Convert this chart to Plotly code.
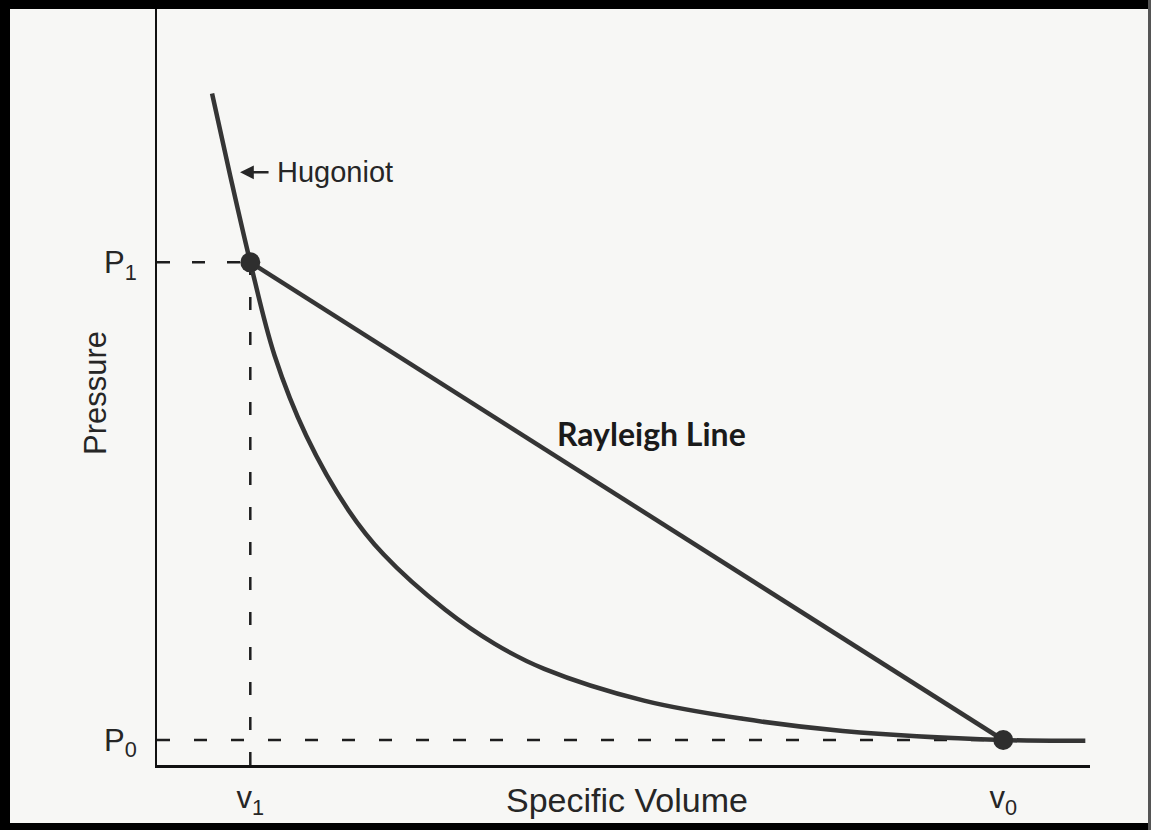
import plotly.graph_objects as go

# ---- data (arbitrary schematic units) ----
V1 = 1.0
V0 = 9.07
P1 = 6.64
P0 = 0.33

hug_v = [0.59, 0.78, 1.00, 1.26, 1.60, 2.05, 2.43, 3.09, 3.62, 4.15, 5.22, 6.28, 7.35, 9.07, 9.95]
hug_p = [8.87, 7.81, 6.64, 5.41, 4.35, 3.37, 2.78, 2.05, 1.60, 1.27, 0.85, 0.61, 0.45, 0.33, 0.32]

ray_v = [V1, V0]
ray_p = [P1, P0]

x_ticks = [V1, V0]
x_ticktext = ["v<sub>1</sub>", "v<sub>0</sub>"]
y_ticks = [P0, P1]
y_ticktext = ["P<sub>0</sub>", "P<sub>1</sub>"]

x_title = "Specific Volume"
y_title = "Pressure"

hug_label_v, hug_label_p = 1.26, 7.83
arrow_head_v = 0.89
ray_label_v, ray_label_p = 5.3, 4.38

# ---- layout geometry ----
W, H = 1151, 830
ML, MT = 157, 8
PW, PH = 933, 757
MR = W - ML - PW
MB = H - MT - PH

def px(x):
    return (x - ML) / PW

def py(y):
    return (MT + PH - y) / PH

curve_col = "#353535"
dash_col = "#1e1e1e"
bg = "#f7f7f5"

fig = go.Figure()

# dashed guide lines
fig.add_trace(go.Scatter(x=[0, V1], y=[P1, P1], mode="lines",
                         line=dict(color=dash_col, width=2.5, dash="13px,22px"),
                         hoverinfo="skip", showlegend=False))
fig.add_trace(go.Scatter(x=[V1, V1], y=[0, P1], mode="lines",
                         line=dict(color=dash_col, width=2.5, dash="13px,22px"),
                         hoverinfo="skip", showlegend=False))
fig.add_trace(go.Scatter(x=[0, V0], y=[P0, P0], mode="lines",
                         line=dict(color=dash_col, width=2.5, dash="13px,24px"),
                         hoverinfo="skip", showlegend=False))

# Hugoniot
fig.add_trace(go.Scatter(x=hug_v, y=hug_p, mode="lines",
                         line=dict(color=curve_col, width=4.5, shape="spline", smoothing=1.0),
                         hoverinfo="skip", showlegend=False))
# Rayleigh line
fig.add_trace(go.Scatter(x=ray_v, y=ray_p, mode="lines",
                         line=dict(color=curve_col, width=4.5),
                         hoverinfo="skip", showlegend=False))
# state points
fig.add_trace(go.Scatter(x=ray_v, y=ray_p, mode="markers",
                         marker=dict(color="#2e2e2e", size=20),
                         hoverinfo="skip", showlegend=False))

label_font = dict(family="Liberation Sans, Arial, sans-serif", size=31, color="#262626")
xtitle_font = dict(family="Liberation Sans, Arial, sans-serif", size=34, color="#262626")
ytitle_font = dict(family="Liberation Sans, Arial, sans-serif", size=31, color="#262626")

# Hugoniot label with arrow
fig.add_annotation(x=arrow_head_v, y=hug_label_p, xref="x", yref="y",
                   ax=30, ay=0, axref="pixel", ayref="pixel",
                   text="", showarrow=True, arrowhead=2, arrowsize=1.1,
                   arrowwidth=2.5, arrowcolor="#262626")
fig.add_annotation(x=hug_label_v, y=hug_label_p, xref="x", yref="y", xanchor="left", yanchor="middle",
                   text="Hugoniot", showarrow=False,
                   font=dict(family="Liberation Sans, Arial, sans-serif", size=29, color="#262626"))
fig.add_annotation(x=ray_label_v, y=ray_label_p, xref="x", yref="y", xanchor="center", yanchor="middle",
                   text="<b>Rayleigh Line</b>", showarrow=False,
                   font=dict(family="Lato, sans-serif", size=32, color="#1a1a1a"))

# axis titles (placed as in the scan)
fig.add_annotation(x=px(627), y=py(800), xref="paper", yref="paper", xanchor="center", yanchor="middle",
                   text=x_title, showarrow=False, font=xtitle_font)
fig.add_annotation(x=px(95), y=py(393), xref="paper", yref="paper", xanchor="center", yanchor="middle",
                   text=y_title, showarrow=False, textangle=-90, font=ytitle_font)

fig.update_xaxes(range=[0, 10], showgrid=False, zeroline=False, automargin=False,
                 showline=True, linecolor="#111111", linewidth=3,
                 tickvals=x_ticks, ticktext=x_ticktext, ticks="",
                 tickfont=label_font, ticklabelstandoff=3)
fig.update_yaxes(range=[0, 10], showgrid=False, zeroline=False, automargin=False,
                 showline=True, linecolor="#111111", linewidth=2,
                 tickvals=y_ticks, ticktext=y_ticktext, ticks="",
                 tickfont=label_font, ticklabelstandoff=12)

# scanned frame border
shapes = [
    dict(type="rect", xref="paper", yref="paper", x0=px(0), x1=px(W), y0=py(0), y1=py(9),
         fillcolor="black", line=dict(width=0), layer="above"),
    dict(type="rect", xref="paper", yref="paper", x0=px(0), x1=px(W), y0=py(823), y1=py(H),
         fillcolor="black", line=dict(width=0), layer="above"),
    dict(type="rect", xref="paper", yref="paper", x0=px(0), x1=px(10), y0=py(0), y1=py(H),
         fillcolor="black", line=dict(width=0), layer="above"),
    dict(type="rect", xref="paper", yref="paper", x0=px(1148), x1=px(W), y0=py(0), y1=py(H),
         fillcolor="#555555", line=dict(width=0), layer="above"),
]

fig.update_layout(
    width=W, height=H,
    margin=dict(l=ML, r=MR, t=MT, b=MB),
    paper_bgcolor=bg, plot_bgcolor=bg,
    shapes=shapes,
    showlegend=False,
)

fig.write_html(
    "out.html",
    config={"displayModeBar": False},
    post_script="document.body.style.margin='0';document.body.style.overflow='hidden';"
                "document.documentElement.style.overflow='hidden';",
)
